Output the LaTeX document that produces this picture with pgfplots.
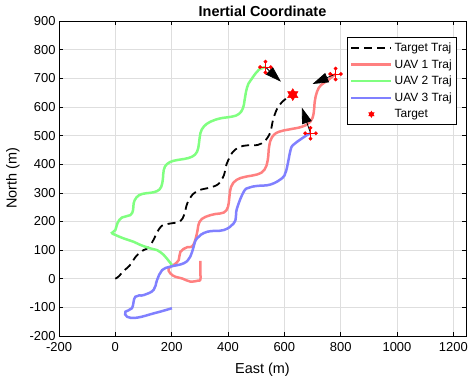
\documentclass[border=0pt]{standalone}
\usepackage{fontspec}
\setmainfont{Liberation Sans}
\usepackage{pgfplots}
\pgfplotsset{compat=1.18}
\usetikzlibrary{arrows.meta}

\definecolor{uavred}{RGB}{255,128,128}
\definecolor{uavgreen}{RGB}{128,255,128}
\definecolor{uavblue}{RGB}{128,128,255}
\definecolor{gridgray}{RGB}{222,222,222}

% six-pointed star like MATLAB's hexagram
\pgfdeclareplotmark{hexagram}{%
  \pgfpathmoveto{\pgfpointpolar{90}{\pgfplotmarksize}}%
  \pgfpathlineto{\pgfpointpolar{210}{\pgfplotmarksize}}%
  \pgfpathlineto{\pgfpointpolar{330}{\pgfplotmarksize}}%
  \pgfpathclose
  \pgfpathmoveto{\pgfpointpolar{30}{\pgfplotmarksize}}%
  \pgfpathlineto{\pgfpointpolar{150}{\pgfplotmarksize}}%
  \pgfpathlineto{\pgfpointpolar{270}{\pgfplotmarksize}}%
  \pgfpathclose
  \pgfusepathqfillstroke}

\pgfplotsset{
  linelegend/.style={legend image code/.code={\draw[##1] (0bp,0bp) -- (40bp,0bp);}},
  marklegend/.style={legend image code/.code={\draw[##1, mark size=3bp] plot coordinates {(20bp,0bp)};}},
}

\begin{document}
\begin{tikzpicture}
\useasboundingbox (-59bp,-45bp) rectangle (416bp,336bp);
\begin{axis}[
    scale only axis,
    width=407bp, height=315bp,
    xmin=-200, xmax=1245, ymin=-200, ymax=900,
    xtick={-200,0,200,400,600,800,1000,1200},
    ytick={-200,-100,0,100,200,300,400,500,600,700,800,900},
    grid=major,
    grid style={color=gridgray, line width=0.6bp},
    tick align=inside,
    major tick length=4bp,
    tick style={black, line width=0.6bp},
    axis line style={line width=0.6bp},
    ticklabel style={font=\fontsize{13}{15}\selectfont},
    xticklabel style={yshift=-3bp},
    /pgf/number format/assume math mode=true,
    /pgf/number format/set thousands separator={},
    scaled ticks=false,
    title={Inertial Coordinate},
    title style={font=\fontsize{14.5}{16}\selectfont\bfseries, yshift=-5bp},
    xlabel={East (m)},
    ylabel={North (m)},
    label style={font=\fontsize{14.5}{16}\selectfont},
    xlabel style={yshift=-5bp},
    ylabel style={yshift=3bp},
    legend style={at={(0.978,0.949)}, anchor=north east,
        font=\fontsize{12}{14}\selectfont, draw=black, line width=0.6bp,
        row sep=2.5bp, inner ysep=3.5bp},
    legend cell align=left,
    linelegend,
    unbounded coords=jump,
]

% target trajectory
\addplot[black, line width=1.8bp, dash pattern=on 8bp off 5bp, smooth] coordinates {
(0,0) (12,8) (30,28) (50,45) (75,80) (100,100) (118,108) (135,135) (150,165)
(165,185) (190,192) (230,200) (245,225) (255,262) (275,295) (300,310) (335,318)
(365,330) (385,360) (395,400) (415,440) (440,460) (470,466) (505,467) (530,480)
(550,510) (560,555) (575,595) (595,620) (615,635) (630,643)
};
\addlegendentry{Target Traj}

% UAV 1
\addplot[uavred, line width=2.5bp, smooth, tension=0.7] coordinates {
(302,62) (302,20) (302,-3) (292,-7) (266,-10) (237,1) (213,7) (195,19) (189,36)
(207,48) (225,65) (231,94) (255,110) (272,112) (284,135) (292,170) (299,199)
(320,216) (355,226) (385,231) (400,251) (405,286) (411,321) (430,345) (462,356)
(503,364) (529,380) (541,414) (546,461) (556,494) (580,513) (621,522) (663,531)
(692,548) (704,577) (708,618) (716,653) (730,676) (752,691) (782,715)
};
\addlegendentry{UAV 1 Traj}

% UAV 2
\addplot[uavgreen, line width=2.5bp, smooth, tension=0.7] coordinates {
(201,48) (185,68) (172,83) (148,100) (124,106) (89,118) (65,129) (29,141) (0,153)
(-12,160) (0,170) (8,195) (24,214) (53,222) (63,240) (65,263) (75,284) (95,296)
(124,300) (148,306) (163,321) (169,350) (172,380) (183,400) (207,412) (243,418)
(272,426) (290,443) (297,473) (302,508) (314,531) (337,548) (373,560) (414,566)
(438,575) (453,595) (459,624) (464,653) (473,682) (489,705) (511,731) (533,739)
};
\addlegendentry{UAV 2 Traj}

% UAV 3
\addplot[uavblue, line width=2.5bp, smooth, tension=0.7] coordinates {
(201,-103) (170,-112) (136,-121) (77,-136) (42,-133) (36,-115) (59,-103) (71,-63)
(101,-57) (136,-39) (148,-5) (166,30) (195,42) (243,54) (266,77) (278,112)
(290,141) (326,164) (385,170) (420,193) (428,215) (432,246) (456,304) (475,318)
(503,324) (551,329) (592,351) (603,368) (610,391) (622,449) (630,466) (645,478)
(681,502) (693,508)
};
\addlegendentry{UAV 3 Traj}

% heading arrows towards the target
\addplot[black, line width=0.8bp, forget plot,
    quiver={u=\thisrow{u}, v=\thisrow{v}},
    -{Triangle[length=16bp, width=10bp]}] table {
x y u v
533 739 55 -51
782 715 -82 -35
693 508 -31 90
};

% quadrotor icons
\addplot[red, line width=0.6bp, mark=*, mark size=1.6bp, forget plot] coordinates {
(514,739) (552,739) (533,nan) (533,720) (533,758)
};
\addplot[red, line width=0.6bp, mark=*, mark size=1.6bp, forget plot] coordinates {
(763,715) (801,715) (782,nan) (782,696) (782,734)
};
\addplot[red, line width=0.6bp, mark=*, mark size=1.6bp, forget plot] coordinates {
(674,508) (712,508) (693,nan) (693,489) (693,527)
};

% target
\addplot[only marks, red, fill=red, mark=hexagram, mark size=6bp, marklegend]
    coordinates {(630,643)};
\addlegendentry{Target}

\end{axis}
\end{tikzpicture}
\end{document}
